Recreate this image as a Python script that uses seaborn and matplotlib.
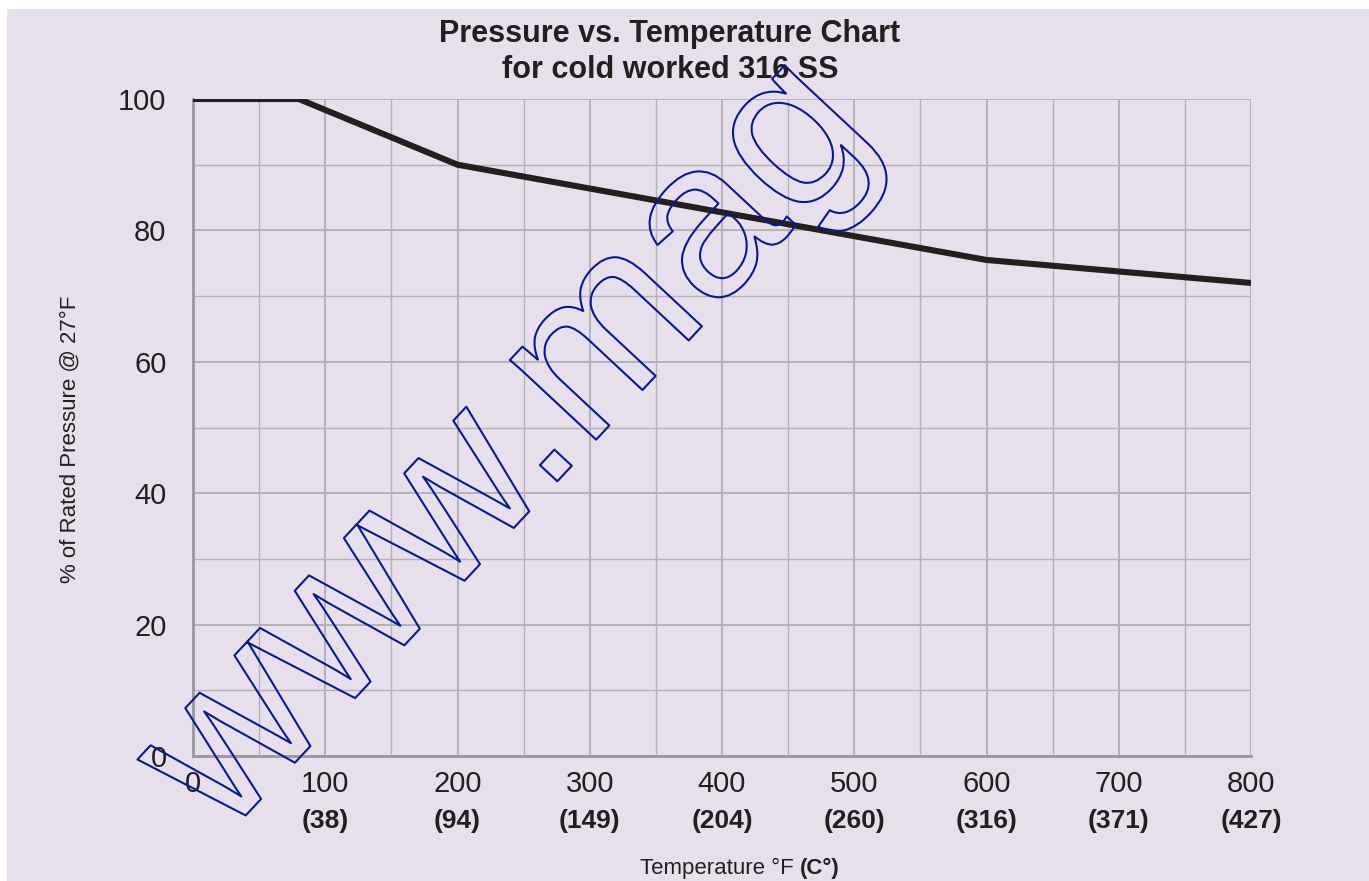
import matplotlib
matplotlib.use("Agg")
import matplotlib.pyplot as plt
import matplotlib.patheffects as pe
import matplotlib.transforms as mtransforms
from matplotlib.ticker import MultipleLocator
import seaborn as sns
import pandas as pd

# Data
temp_f = [0, 80, 200, 600, 800]
pct_rated = [100, 100, 90, 75.5, 72]
xticks_f = [0, 100, 200, 300, 400, 500, 600, 700, 800]
xticks_c = ["", "(38)", "(94)", "(149)", "(204)", "(260)", "(316)", "(371)", "(427)"]
yticks = [0, 20, 40, 60, 80, 100]

BG = "#e8dfec"
sns.set_theme(style="whitegrid")
plt.rcParams['font.family'] = ['Liberation Sans', 'DejaVu Sans']

W, H = 1369, 881
fig = plt.figure(figsize=(W / 100, H / 100), dpi=100)
fig.patch.set_facecolor("white")
# lavender panel (white strip at top and left)
fig.patches.append(plt.Rectangle((7 / W, 0), 1, 1 - 9 / H, transform=fig.transFigure,
                                 facecolor=BG, edgecolor="none", zorder=-10))

ax = fig.add_axes([193 / W, 1 - 756 / H, (1251 - 193) / W, (756 - 99) / H])
ax.set_facecolor(BG)

df = pd.DataFrame({"temp": temp_f, "pct": pct_rated})
sns.lineplot(data=df, x="temp", y="pct", ax=ax, color="#231f20", linewidth=4.4,
             solid_capstyle="butt", zorder=5)

ax.set_xlim(0, 800)
ax.set_ylim(0, 100)
ax.xaxis.set_major_locator(MultipleLocator(100))
ax.xaxis.set_minor_locator(MultipleLocator(50))
ax.yaxis.set_major_locator(MultipleLocator(20))
ax.yaxis.set_minor_locator(MultipleLocator(10))
ax.set_xticks(xticks_f)
ax.set_yticks(yticks)
ax.grid(which="major", color="#b4b0ba", linewidth=1.4)
ax.grid(which="minor", color="#b4b0ba", linewidth=1.0)
for s in ax.spines.values():
    s.set_visible(False)
for side in ("left", "bottom"):
    ax.spines[side].set_visible(True)
    ax.spines[side].set_color("#9a979d")
    ax.spines[side].set_linewidth(2)
ax.tick_params(which="both", length=0)
ax.tick_params(axis="y", labelsize=21, colors="#231f20", pad=19)
ax.tick_params(axis="x", labelsize=21, colors="#231f20", pad=10)
ax.set_xticklabels([str(v) for v in xticks_f])
ax.set_yticklabels([str(v) for v in yticks])

trans = mtransforms.blended_transform_factory(ax.transData, ax.transAxes)
for xv, lab in zip(xticks_f, xticks_c):
    ax.text(xv, -0.099, lab, transform=trans, ha="center", va="center",
            fontsize=19, fontweight="bold", color="#231f20")

ax.set_xlabel("")
ax.set_ylabel("")
fig.text(70 / W, 1 - 439 / H, "% of Rated Pressure @ 27°F", rotation=90,
         ha="center", va="center", fontsize=16, color="#231f20")
fig.text(800 / W, 1 - 868 / H, "Temperature °F ", ha="right", va="center",
         fontsize=16, color="#231f20")
fig.text(800 / W, 1 - 868 / H, "(C°)", ha="left", va="center",
         fontsize=16, fontweight="bold", color="#231f20")

fig.text(670 / W, 1 - 52 / H, "Pressure vs. Temperature Chart\nfor cold worked 316 SS",
         ha="center", va="center", fontsize=22, fontweight="bold", linespacing=1.3,
         color="#231f20")

# watermark (outlined text)
fig.text(552 / W, 1 - 487 / H, "www.mag", rotation=47, rotation_mode="anchor",
         ha="center", va="baseline", fontsize=160, color="none",
         path_effects=[pe.withStroke(linewidth=1.5, foreground="#0a1a8c")], zorder=20)

fig.savefig("out.png", dpi=100, facecolor=fig.get_facecolor())
